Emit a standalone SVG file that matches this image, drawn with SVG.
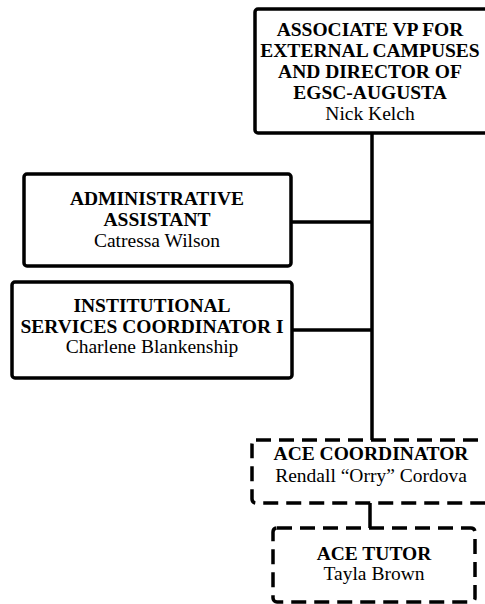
<svg xmlns="http://www.w3.org/2000/svg" width="485" height="604" viewBox="0 0 485 604">
<style>
.box{fill:#fff;stroke:#000;stroke-width:3.5}
.dash{fill:#fff;stroke:#000;stroke-width:3.5;stroke-dasharray:15 8}
.ln{stroke:#000;stroke-width:3.5;fill:none}
text{font-family:"Liberation Serif","Times New Roman",serif;font-size:19.5px;text-anchor:middle;fill:#000}
.b{font-weight:bold}
</style>
<rect width="485" height="604" fill="#fff"/>
<g id="connectors">
<line class="ln" x1="372" y1="133" x2="372" y2="440"/>
<line class="ln" x1="291" y1="222" x2="372" y2="222"/>
<line class="ln" x1="292" y1="330" x2="372" y2="330"/>
<line class="ln" x1="370" y1="503" x2="370" y2="528"/>
</g>
<g id="vp">
<rect class="box" x="255" y="9" width="250" height="124" rx="3"/>
<text class="b" x="370" y="36">ASSOCIATE VP FOR</text>
<text class="b" x="370" y="57">EXTERNAL CAMPUSES</text>
<text class="b" x="370" y="78">AND DIRECTOR OF</text>
<text class="b" x="370" y="99">EGSC-AUGUSTA</text>
<text x="370" y="120">Nick Kelch</text>
</g>
<g id="admin">
<rect class="box" x="24" y="174" width="267" height="92" rx="3"/>
<text class="b" x="157" y="205">ADMINISTRATIVE</text>
<text class="b" x="157" y="226">ASSISTANT</text>
<text x="157" y="247">Catressa Wilson</text>
</g>
<g id="isc">
<rect class="box" x="12" y="282" width="280" height="96" rx="3"/>
<text class="b" x="152" y="312">INSTITUTIONAL</text>
<text class="b" x="152" y="333">SERVICES COORDINATOR I</text>
<text x="152" y="353">Charlene Blankenship</text>
</g>
<g id="ace-coord">
<rect class="dash" x="252" y="440" width="250" height="63" rx="4"/>
<text class="b" x="371" y="460">ACE COORDINATOR</text>
<text x="371" y="482">Rendall “Orry” Cordova</text>
</g>
<g id="ace-tutor">
<rect class="dash" x="273" y="528" width="202" height="74" rx="4"/>
<text class="b" x="374" y="560">ACE TUTOR</text>
<text x="374" y="580">Tayla Brown</text>
</g>
</svg>
